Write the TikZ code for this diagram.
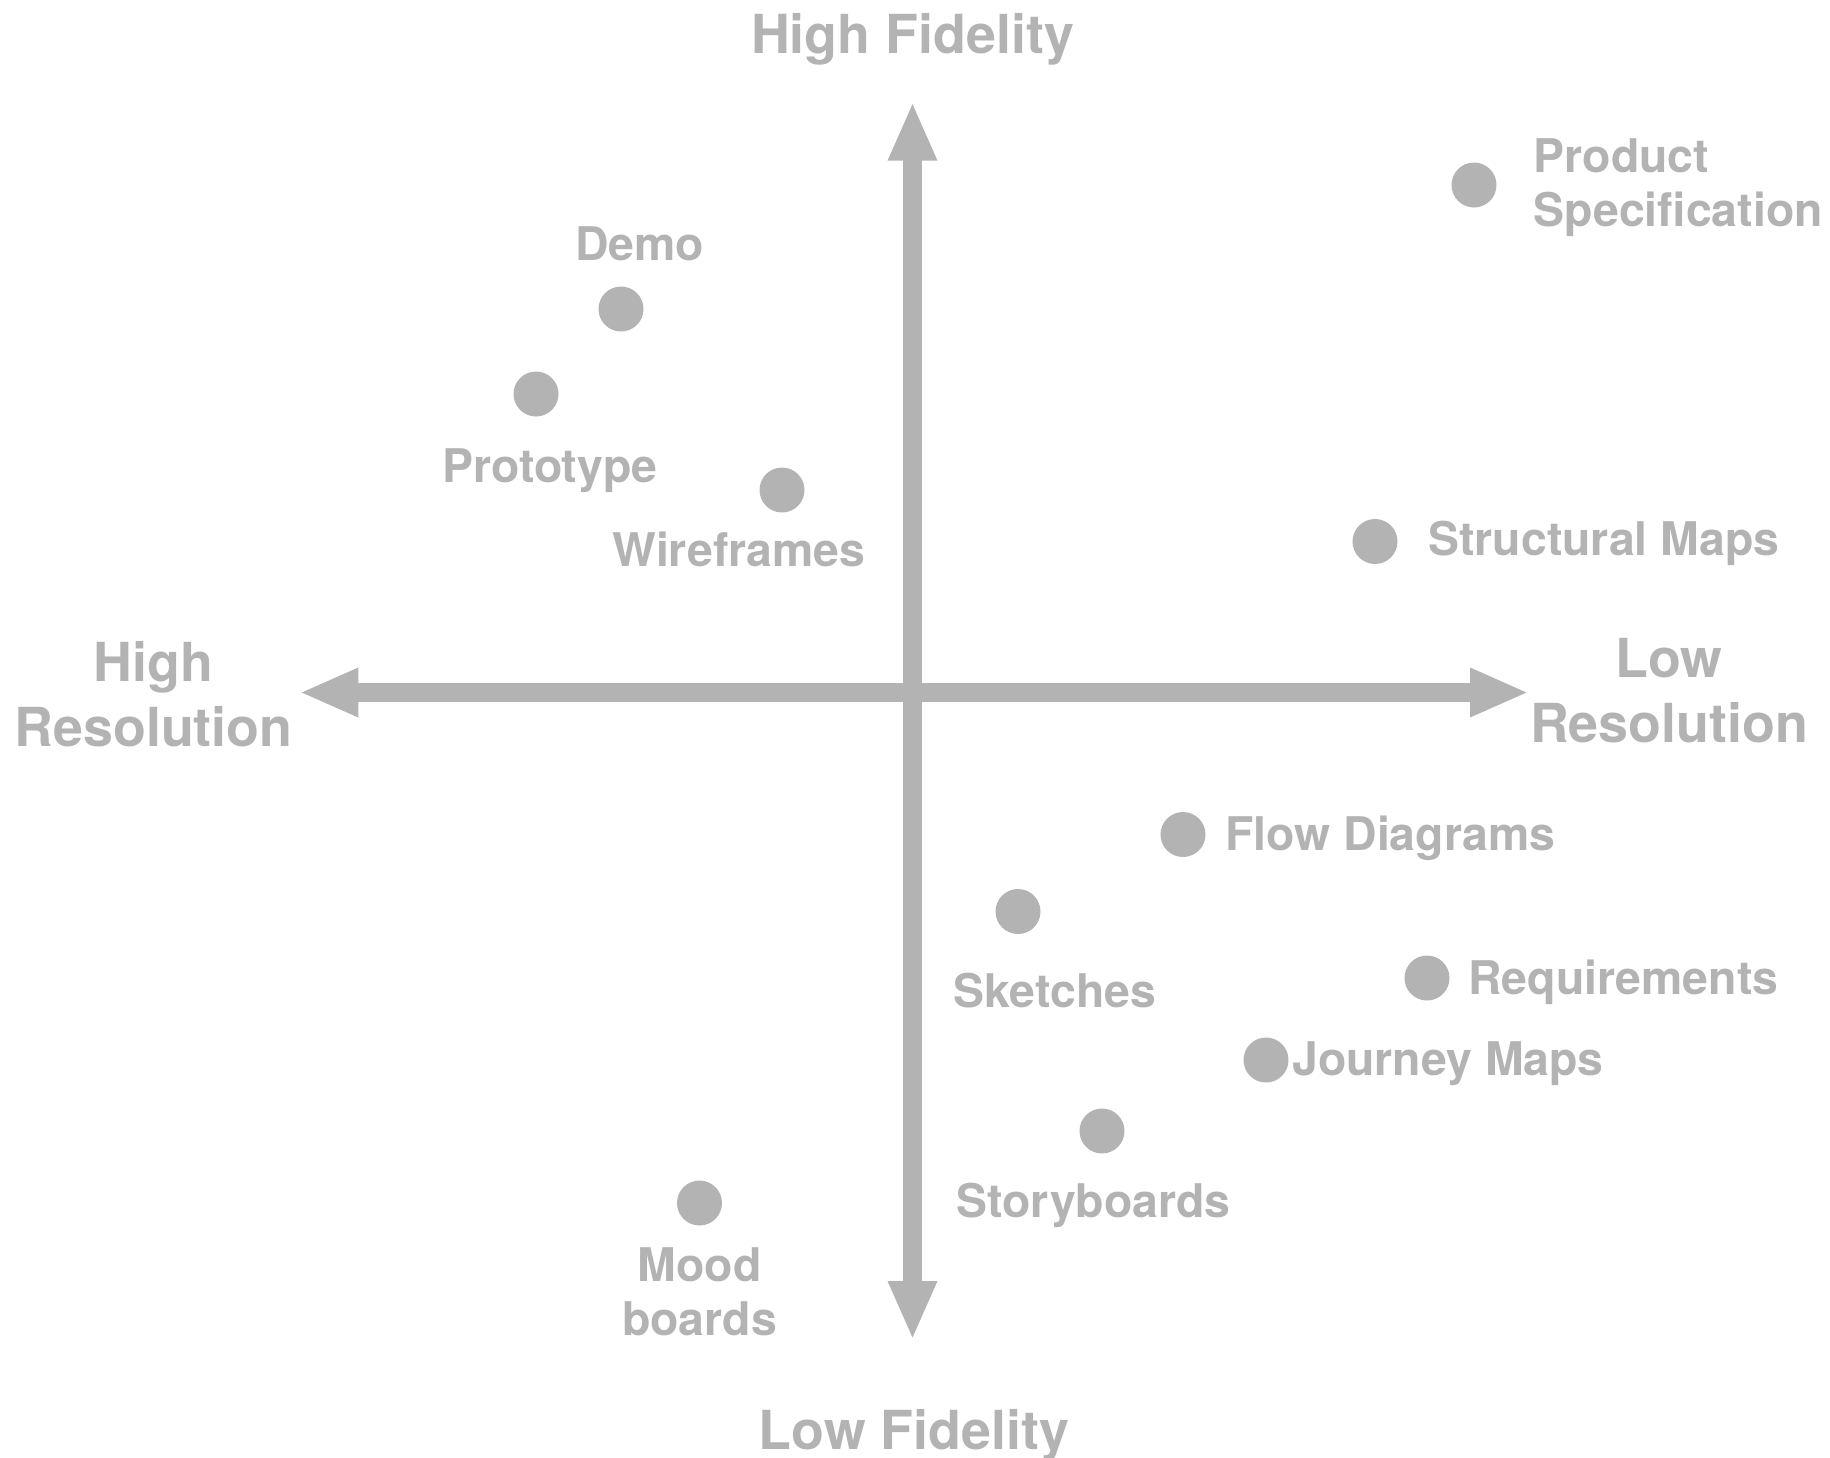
\documentclass[tikz,border=0pt]{standalone}
\usepackage{fontspec}
\setmainfont{TeX Gyre Heros}
\usetikzlibrary{arrows.meta}
\definecolor{axisgray}{HTML}{B3B3B3}
\begin{document}
\begin{tikzpicture}[x=0.5pt,y=-0.5pt,
  dot/.style={circle,fill=axisgray,draw=none,minimum size=22.5pt,inner sep=0pt},
  lbl/.style={text=axisgray,inner sep=0pt,font=\bfseries\fontsize{23.2}{27}\selectfont},
  axlbl/.style={text=axisgray,inner sep=0pt,align=center,font=\bfseries\fontsize{26.9}{32.5}\selectfont},
  axisline/.style={draw=axisgray,line width=9.75pt,{Triangle[length=29.5pt,width=22.5pt]}-{Triangle[length=29.5pt,width=22.5pt]}}]
\useasboundingbox (0,0) rectangle (1830,1457);
% axes
\coordinate (top) at (912.5,101.7);
\coordinate (bottom) at (912.5,1340);
\coordinate (left) at (299.3,692.5);
\coordinate (right) at (1529,692.5);
\draw[axisline] (left) -- (right);
\draw[axisline] (top) -- (bottom);
% axis labels (base anchor = baseline of last line)
\node[axlbl,anchor=base] (hf) at (912.5,53.3) {High Fidelity};
\node[axlbl,anchor=base] (lf) at (914,1449) {Low Fidelity};
\node[axlbl,anchor=base] (hr) at (153.5,746.7) {High\\Resolution};
\node[axlbl,anchor=base] (lr) at (1669,742.5) {Low\\Resolution};
% dots
\node[dot] (dps) at (1474,185) {};
\node[dot] (ddemo) at (621,309) {};
\node[dot] (dproto) at (536,394) {};
\node[dot] (dwire) at (782,490) {};
\node[dot] (dstruct) at (1375,541.5) {};
\node[dot] (dflow) at (1183,834.5) {};
\node[dot] (dsketch) at (1018,911.5) {};
\node[dot] (dreq) at (1427,978) {};
\node[dot] (djourney) at (1266,1060) {};
\node[dot] (dstory) at (1102,1131) {};
\node[dot] (dmood) at (699.5,1203) {};
% labels
\node[lbl,anchor=base west,align=left] (lps) at (1533.5,226) {Product\\Specification};
\node[lbl,anchor=base] (ldemo) at (639.6,260.5) {Demo};
\node[lbl,anchor=base] (lproto) at (549.7,482) {Prototype};
\node[lbl,anchor=base] (lwire) at (738.8,566) {Wireframes};
\node[lbl,anchor=base west] (lstruct) at (1428,555.7) {Structural Maps};
\node[lbl,anchor=base west] (lflow) at (1225,850) {Flow Diagrams};
\node[lbl,anchor=base] (lsketch) at (1055,1007.5) {Sketches};
\node[lbl,anchor=base west] (lreq) at (1468,994.5) {Requirements};
\node[lbl,anchor=base west] (ljourney) at (1292,1075) {Journey Maps};
\node[lbl,anchor=base] (lstory) at (1093.6,1217.5) {Storyboards};
\node[lbl,anchor=base,align=center] (lmood) at (699.5,1335) {Mood\\boards};
\end{tikzpicture}
\end{document}
